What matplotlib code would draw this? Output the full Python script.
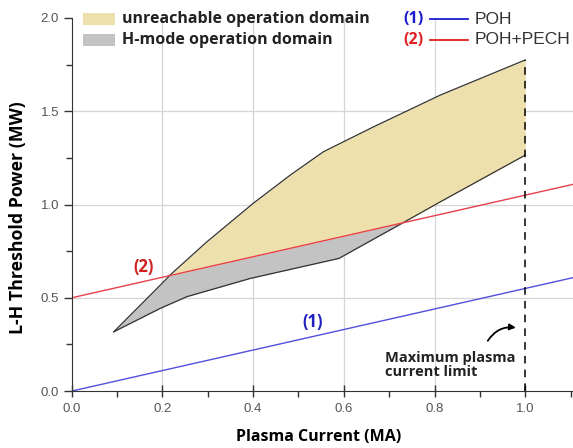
import numpy as np
import matplotlib.pyplot as plt
from matplotlib.patches import Rectangle

# boundaries of the operation domain
upper_x = [0.093, 0.159, 0.221, 0.298, 0.400, 0.482, 0.555, 0.666, 0.813, 1.000]
upper_y = [0.318, 0.479, 0.631, 0.800, 1.006, 1.158, 1.283, 1.417, 1.587, 1.775]
lower_x = [0.093, 0.195, 0.254, 0.394, 0.589, 0.728, 0.813, 1.000]
lower_y = [0.318, 0.443, 0.506, 0.604, 0.711, 0.899, 1.015, 1.265]

# threshold lines (1) POH and (2) POH+PECH
line_x = [0.0, 1.105]
poh_y = [0.0, 0.608]
pech_y = [0.5, 1.108]

bold = 'Open Sans'
plain = 'Liberation Sans'

fig = plt.figure(figsize=(5.73, 4.48), dpi=100)
ax = fig.add_axes([0.125, 0.127, 0.875, 0.833])

xs = np.linspace(upper_x[0], upper_x[-1], 800)
up = np.interp(xs, upper_x, upper_y)
lo = np.interp(xs, lower_x, lower_y)
red = np.interp(xs, line_x, pech_y)

top_gray = np.minimum(up, red)
ax.fill_between(xs, lo, top_gray, where=top_gray >= lo, interpolate=True,
                color='#c3c3c3', lw=0)
bot_yel = np.maximum(lo, red)
ax.fill_between(xs, bot_yel, up, where=up >= bot_yel, interpolate=True,
                color='#eee0ad', lw=0)
ax.plot(upper_x, upper_y, color='#333333', lw=0.9)
ax.plot(lower_x, lower_y, color='#333333', lw=0.9)

ax.plot(line_x, pech_y, color='#e8404a', lw=1.0)
ax.plot(line_x, poh_y, color='#5050dc', lw=1.0)

ax.plot([1.0, 1.0], [0.0, upper_y[-1]], color='black', lw=1.1, ls=(0, (5, 4)))

ax.set_xlim(0, 1.105)
ax.set_ylim(0, 2.0)
ax.set_xticks(np.arange(0, 1.01, 0.2))
ax.set_xticks(np.arange(0.1, 1.11, 0.2), minor=True)
ax.set_yticks(np.arange(0, 2.01, 0.5))
ax.set_yticks(np.arange(0.25, 2.0, 0.5), minor=True)
ax.xaxis.set_major_formatter(plt.FormatStrFormatter('%.1f'))
ax.yaxis.set_major_formatter(plt.FormatStrFormatter('%.1f'))
ax.tick_params(axis='x', which='major', direction='inout', length=9, width=1, colors='#333333',
               labelcolor='#555555', labelsize=9.5, pad=4)
ax.tick_params(axis='x', which='minor', direction='out', length=4, width=1, colors='#333333')
ax.tick_params(axis='y', which='major', direction='out', length=6, width=1, colors='#333333',
               labelcolor='#555555', labelsize=9.5, pad=3)
ax.tick_params(axis='y', which='minor', direction='out', length=4, width=1, colors='#333333')
for lab in ax.get_xticklabels() + ax.get_yticklabels():
    lab.set_family(plain)
for gx in [0.2, 0.4, 0.6, 0.8]:
    ax.axvline(gx, color='#d5d5d5', lw=0.9, zorder=0)
for gy in [0.5, 1.0, 1.5]:
    ax.axhline(gy, color='#d5d5d5', lw=0.9, zorder=0)

ax.spines['top'].set_visible(False)
ax.spines['right'].set_visible(False)
ax.spines['left'].set_color('#333333')
ax.spines['bottom'].set_color('#333333')

ax.set_xlabel('Plasma Current (MA)', family=bold, weight='bold', fontsize=11.5)
ax.xaxis.set_label_coords(0.493, -0.102)
ax.set_ylabel('L-H Threshold Power (MW)', family=bold, weight='bold', fontsize=12.8)
ax.yaxis.set_label_coords(-0.089, 0.464)

ax.text(0.531, 0.372, '(1)', color='#2020c0', family=bold, weight='bold', fontsize=12,
        ha='center', va='center')
ax.text(0.158, 0.667, '(2)', color='#d02020', family=bold, weight='bold', fontsize=12,
        ha='center', va='center')
ax.text(0.691, 0.139, 'Maximum plasma\ncurrent limit', family=bold, weight='bold',
        fontsize=10.5, ha='left', va='center', linespacing=0.95, color='#222222')
ax.annotate('', xy=(0.985, 0.338), xytext=(0.914, 0.257),
            arrowprops=dict(arrowstyle='-|>', color='black', lw=1.3,
                            connectionstyle='arc3,rad=-0.35', mutation_scale=9))

# legend, drawn by hand in figure coordinates
W, H = 573.0, 448.0
for i, (c, txt) in enumerate([('#eee0ad', 'unreachable operation domain'),
                              ('#c3c3c3', 'H-mode operation domain')]):
    yc = 19 + 21 * i
    fig.patches.append(Rectangle((83 / W, 1 - (yc + 6) / H), 32 / W, 12 / H,
                                 transform=fig.transFigure, color=c, lw=0))
    fig.text(122 / W, 1 - yc / H, txt, family=bold, weight='bold', fontsize=11.5,
             va='center', ha='left', color='#222222')

for i, (c, tag, txt) in enumerate([('#1a1ad0', '(1)', 'POH'),
                                   ('#e02020', '(2)', 'POH+PECH')]):
    yc = 19 + 21 * i
    fig.text(403 / W, 1 - yc / H, tag, family=bold, weight='bold', fontsize=11.5,
             va='center', ha='left', color=c)
    fig.add_artist(plt.Line2D([430 / W, 468 / W], [1 - yc / H, 1 - yc / H],
                              transform=fig.transFigure, color=c, lw=1.3))
    fig.text(475 / W, 1 - yc / H, txt, family=plain, fontsize=12.5,
             va='center', ha='left', color='#333333')

fig.savefig('out.png', dpi=100)
